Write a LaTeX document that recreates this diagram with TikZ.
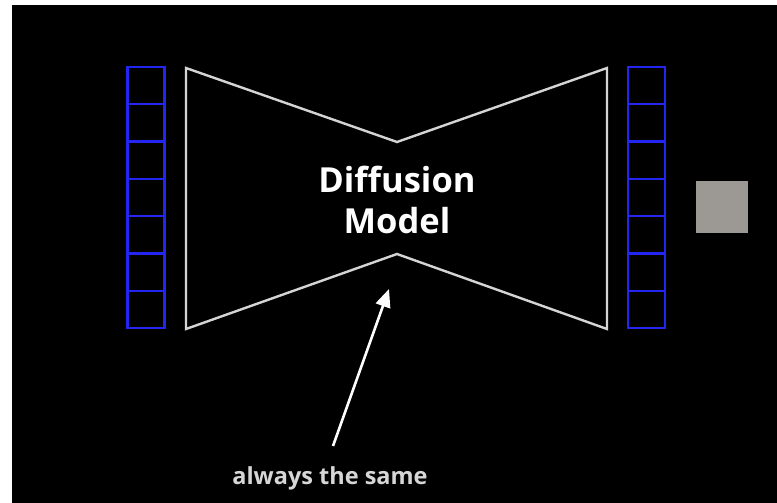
\documentclass[tikz,border=0pt]{standalone}
\usepackage{fontspec}
\setmainfont{Open Sans}
\usetikzlibrary{arrows.meta}
\definecolor{cellblue}{HTML}{2226F0}
\definecolor{linegray}{HTML}{D4D4D4}
\definecolor{labelgray}{HTML}{D6D6D6}
\definecolor{patch}{HTML}{9C9893}
\tikzset{
  cell/.style={draw=cellblue, line width=2.3pt, minimum width=37pt, minimum height=37.3pt, inner sep=0pt, outer sep=0pt},
  bow/.style={draw=linegray, line width=2.4pt, line join=miter},
  title/.style={text=white, font=\bfseries\fontsize{34.5}{41}\selectfont, align=center},
  caption/.style={text=labelgray, font=\bfseries\fontsize{23.5}{26}\selectfont},
  pointer/.style={draw=white, line width=2.6pt, -{Triangle[length=18pt,width=15pt]}}
}
\begin{document}
\begin{tikzpicture}[x=1pt,y=-1pt]
\useasboundingbox (0,0) rectangle (777,503);
\fill[white] (0,0) rectangle (777,503);
\fill[black] (12,5) rectangle (777,503);
% columns
\foreach \i in {0,...,6} {
  \node[cell] (L\i) at (146,{67+18.65+37.3*\i}) {};
  \node[cell] (R\i) at (646.5,{67+18.65+37.3*\i}) {};
}
% bowtie
\draw[bow] (186,68) -- (397,142) -- (607,68) -- (607,329) -- (397,254) -- (186,329) -- cycle;
\coordinate (tip) at (389,289);
\node[title] (dm) at (397,200) {Diffusion\\Model};
% gray patch
\node[fill=patch, minimum size=52pt, inner sep=0pt] (img) at (722,207) {};
% caption and arrow
\node[caption] (cap) at (330,478) {always the same};
\coordinate (tail) at (333,446);
\draw[pointer] (tail) -- (tip);
\end{tikzpicture}
\end{document}
